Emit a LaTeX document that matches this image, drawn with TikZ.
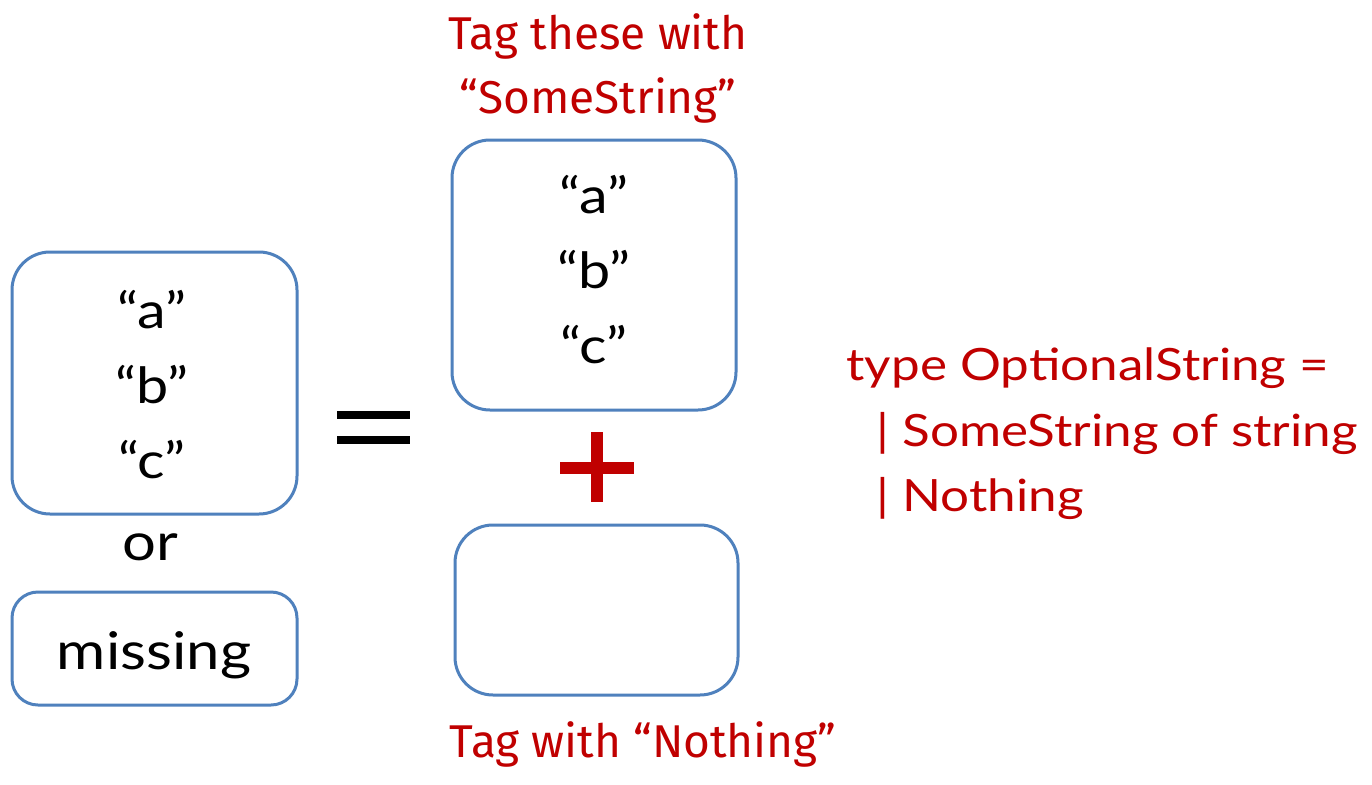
\documentclass[tikz,border=0pt]{standalone}
\usepackage{fontspec}
\setmainfont{Lato}
\newfontfamily\widefont[FakeStretch=1.15]{Lato}
\newfontfamily\handfont{Fira Sans}
\definecolor{boxblue}{RGB}{79,129,189}
\definecolor{tagred}{RGB}{192,0,0}
\begin{document}
\begin{tikzpicture}[x=1pt,y=-1pt,
  vbox/.style={draw=boxblue,line width=3pt,rounded corners=#1},
  vbox/.default=38pt,
  body/.style={font=\widefont\fontsize{50}{75}\selectfont,align=center,text=black},
  bigbody/.style={font=\widefont\fontsize{52}{75}\selectfont,align=center,text=black},
  tag/.style={font=\handfont\fontsize{46}{64}\selectfont,text=tagred,align=center},
  code/.style={font=\widefont\fontsize{44.5}{65}\selectfont,text=tagred,align=left,anchor=west}]
\useasboundingbox (0,0) rectangle (1372,784);
\fill[white] (0,0) rectangle (1372,784);

% left: a value or nothing
\draw[vbox] (12,252) rectangle (297,514);
\node[body] (lval) at (152,385) {“a”\\“b”\\“c”};
\node[bigbody] (orw) at (150,547) {or};
\draw[vbox=26pt] (12,592) rectangle (297,705);
\node[bigbody] (miss) at (154,655) {missing};

% equals sign
\fill[black] (337,411) rectangle (410,419);
\fill[black] (337,436) rectangle (410,444);

% middle: tagged cases
\draw[vbox] (452,140) rectangle (736,410);
\node[body] (mval) at (594,270) {“a”\\“b”\\“c”};
\fill[tagred] (560,462) rectangle (634,474);
\fill[tagred] (591,432) rectangle (603,502);
\draw[vbox] (455,525) rectangle (738,695);

\node[tag] (tsome) at (598,68) {Tag these with\\“SomeString”};
\node[tag] (tnone) at (643,744) {Tag with “Nothing”};

% type definition
\node[code] (c1) at (843,368) {type OptionalString =};
\node[code] (c2) at (873,433) {| SomeString of string};
\node[code] (c3) at (873,498) {| Nothing};
\end{tikzpicture}
\end{document}
